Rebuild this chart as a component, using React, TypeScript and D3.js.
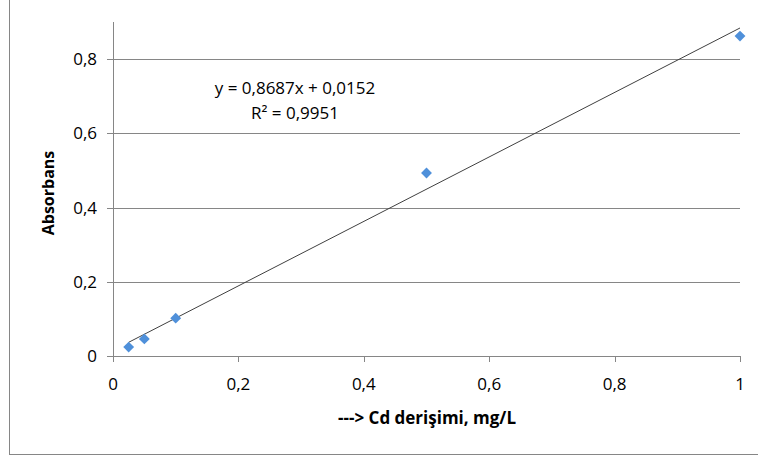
import React from "react";
import * as d3 from "d3";

// Cd calibration standards
const concentrations = [0.025, 0.05, 0.1, 0.5, 1.0];
const absorbances = [0.024, 0.046, 0.102, 0.493, 0.862];
const xTicks = [0, 0.2, 0.4, 0.6, 0.8, 1];
const yTicks = [0, 0.2, 0.4, 0.6, 0.8];
const slope = 0.8687;
const intercept = 0.0152;
const equationText = "y = 0,8687x + 0,0152";
const r2Text = "R² = 0,9951";

const W = 758;
const H = 457;
const font = "'Open Sans', 'Liberation Sans', sans-serif";
const fmt = (v: number) => (v === 0 ? "0" : v === 1 ? "1" : String(v).replace(".", ","));

export default function App() {
  const x = d3.scaleLinear().domain([0, 1]).range([113, 740]);
  const y = d3.scaleLinear().domain([0, 0.9]).range([356, 22]);
  const trend = d3
    .line<number>()
    .x((d) => x(d))
    .y((d) => y(slope * d + intercept));
  const trendXs = [concentrations[0], concentrations[concentrations.length - 1]];
  const diamond = d3.symbol().type(d3.symbolDiamond2 ?? d3.symbolDiamond).size(75)();

  return (
    <svg
      width={W}
      height={H}
      style={{ position: "absolute", left: 0, top: 0, background: "#fff" }}
    >
      <rect x={9.5} y={-2} width={W + 10} height={456.5} fill="#fff" stroke="#868686" />
      {yTicks
        .filter((t) => t > 0)
        .map((t) => (
          <line key={t} x1={x(0)} x2={x(1)} y1={Math.round(y(t)) + 0.5} y2={Math.round(y(t)) + 0.5} stroke="#868686" />
        ))}
      {/* axes */}
      <line x1={x(0) + 0.5} x2={x(0) + 0.5} y1={y(0.9)} y2={y(0) + 6} stroke="#868686" />
      <line x1={x(0)} x2={x(1)} y1={y(0) + 0.5} y2={y(0) + 0.5} stroke="#868686" />
      {yTicks.map((t) => (
        <g key={t}>
          <line x1={x(0) - 6} x2={x(0)} y1={Math.round(y(t)) + 0.5} y2={Math.round(y(t)) + 0.5} stroke="#868686" />
          <text x={97} y={y(t) + 6} textAnchor="end" fontFamily={font} fontSize={17} fill="#000">
            {fmt(t)}
          </text>
        </g>
      ))}
      {xTicks.map((t) => (
        <g key={t}>
          <line x1={Math.round(x(t)) + 0.5} x2={Math.round(x(t)) + 0.5} y1={y(0)} y2={y(0) + 6} stroke="#868686" />
          <text x={x(t)} y={390} textAnchor="middle" fontFamily={font} fontSize={17} fill="#000">
            {fmt(t)}
          </text>
        </g>
      ))}
      {/* linear trendline */}
      <path d={trend(trendXs) ?? ""} fill="none" stroke="#404040" strokeWidth={1} />
      {concentrations.map((c, i) => (
        <path key={i} d={diamond ?? ""} transform={`translate(${x(c)},${y(absorbances[i])})`} fill="#4F90DA" />
      ))}
      <text x={295} y={94} textAnchor="middle" fontFamily={font} fontSize={17} fill="#000">
        {equationText}
      </text>
      <text x={295} y={119} textAnchor="middle" fontFamily={font} fontSize={17} fill="#000">
        {r2Text}
      </text>
      <text
        transform={`translate(54,193) rotate(-90)`}
        textAnchor="middle"
        fontFamily={font}
        fontSize={16}
        fontWeight="bold"
        fill="#000"
      >
        Absorbans
      </text>
      <text x={427} y={424} textAnchor="middle" fontFamily={font} fontSize={17} fontWeight="bold" fill="#000">
        ---&gt; Cd derişimi, mg/L
      </text>
    </svg>
  );
}
